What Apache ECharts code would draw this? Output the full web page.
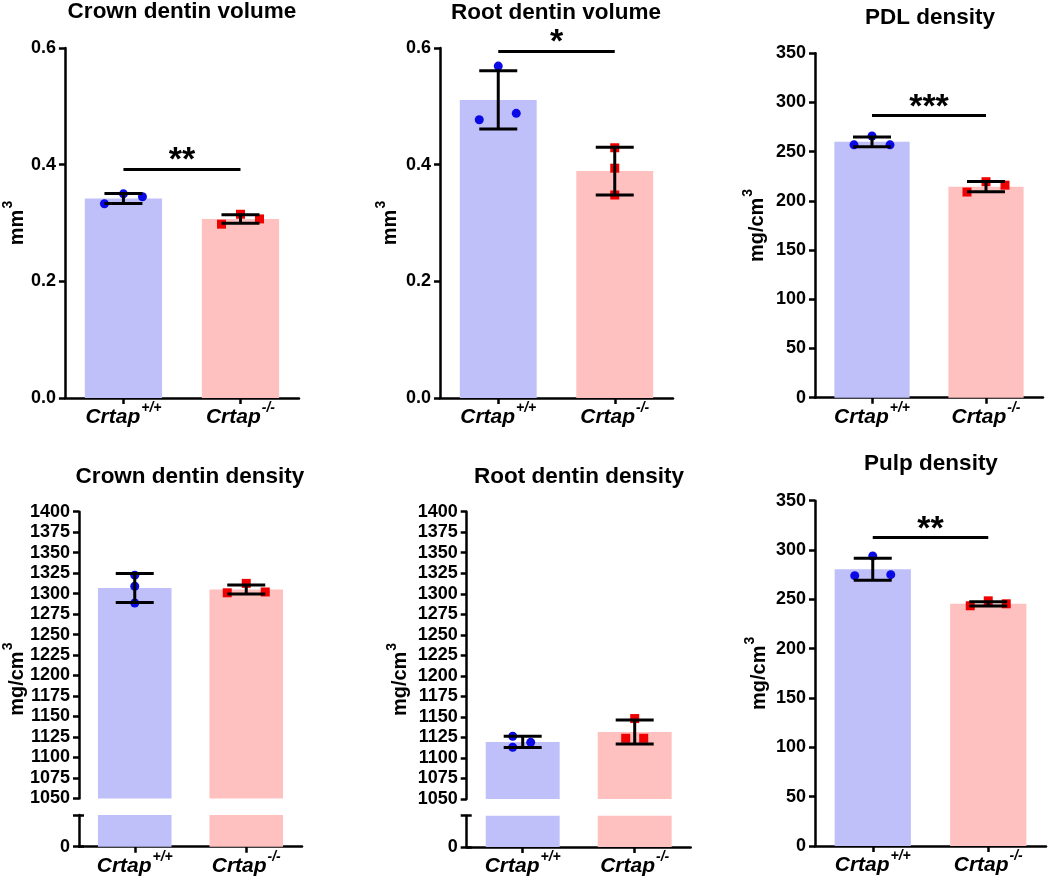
<!DOCTYPE html>
<html>
<head>
<meta charset="utf-8">
<script src="https://cdn.jsdelivr.net/npm/echarts@6/dist/echarts.min.js"></script>
<style>
html,body{margin:0;padding:0;background:#fff;}
#chart{width:1050px;height:877px;}
</style>
</head>
<body>
<div id="chart"></div>
<script>
// ---------------- DATA ----------------
const gene = 'Crtap';
const genotypes = ['+/+', '-/-'];
const categories = genotypes.map(g => gene + g);

// Crown dentin volume (mm3)
const crownVolMean = [0.342, 0.307];
const crownVolSD = [0.0085, 0.0073];
const crownVolWT = [0.333, 0.350, 0.345];
const crownVolKO = [0.298, 0.315, 0.307];
const crownVolTicks = [0, 0.2, 0.4, 0.6];

// Root dentin volume (mm3)
const rootVolMean = [0.511, 0.389];
const rootVolSD = [0.050, 0.041];
const rootVolWT = [0.477, 0.569, 0.488];
const rootVolKO = [0.429, 0.394, 0.348];
const rootVolTicks = [0, 0.2, 0.4, 0.6];

// PDL density (mg/cm3)
const pdlMean = [260, 214.5];
const pdlSD = [5.0, 5.1];
const pdlWT = [257, 266, 257];
const pdlKO = [209, 219.5, 216];
const pdlTicks = [0, 50, 100, 150, 200, 250, 300, 350];

// Crown dentin density (mg/cm3)
const crownDenMean = [1307, 1305];
const crownDenSD = [17.7, 5.5];
const crownDenWT = [1322.5, 1309, 1288.5];
const crownDenKO = [1301, 1312.5, 1302];
const crownDenTicks = [1050, 1075, 1100, 1125, 1150, 1175, 1200, 1225, 1250, 1275, 1300, 1325, 1350, 1375, 1400];

// Root dentin density (mg/cm3)
const rootDenMean = [1119.5, 1131.5];
const rootDenSD = [6.9, 14.6];
const rootDenWT = [1126.5, 1113, 1119];
const rootDenKO = [1124, 1148, 1124];
const rootDenTicks = [1050, 1075, 1100, 1125, 1150, 1175, 1200, 1225, 1250, 1275, 1300, 1325, 1350, 1375, 1400];

// Pulp density (mg/cm3)
const pulpMean = [280.5, 245.5];
const pulpSD = [11.2, 2.2];
const pulpWT = [274, 294, 275];
const pulpKO = [243.5, 248.5, 245.5];
const pulpTicks = [0, 50, 100, 150, 200, 250, 300, 350];

// Significance bars (level on y axis, label)
const sigLevels = [0.393, 0.595, 287, null, null, 313];
const sigLabels = ['**', '*', '***', null, null, '**'];

// ---------------- LAYOUT / STYLE ----------------
const FONT = 'Arial, "Liberation Sans", sans-serif';
const BLUE_BAR = '#bfbffa', PINK_BAR = '#ffc0c0';
const BLUE_PT = '#0a0ae6', RED_PT = '#f00000';

const panels = [
  { title: 'Crown dentin volume', tx: 182, ty: 12, unit: 'mm', grid: [64, 48, 235, 350], nameGap: 37, dec: 1,
    mean: crownVolMean, sd: crownVolSD, wt: crownVolWT, ko: crownVolKO, ticks: crownVolTicks,
    jWT: [-19, 0, 19], jKO: [-19, 0, 19] },
  { title: 'Root dentin volume', tx: 556, ty: 13, unit: 'mm', grid: [440, 48, 233, 350], nameGap: 40, dec: 1,
    mean: rootVolMean, sd: rootVolSD, wt: rootVolWT, ko: rootVolKO, ticks: rootVolTicks,
    jWT: [-19, 0, 18], jKO: [0, 0, 0] },
  { title: 'PDL density', tx: 930, ty: 18, unit: 'mg/cm', grid: [815, 53.3, 228, 344.4], nameGap: 48, dec: 0,
    mean: pdlMean, sd: pdlSD, wt: pdlWT, ko: pdlKO, ticks: pdlTicks,
    jWT: [-18, 0, 18], jKO: [-19, 0, 19] },
  { title: 'Crown dentin density', tx: 190, ty: 477, unit: 'mg/cm', grid: [79, 511.7, 223, 286.7], lower: [79, 815, 223, 31.7], nameGap: 52, dec: 0,
    mean: crownDenMean, sd: crownDenSD, wt: crownDenWT, ko: crownDenKO, ticks: crownDenTicks,
    jWT: [0, 0, 0], jKO: [-19, 0, 19] },
  { title: 'Root dentin density', tx: 579, ty: 477, unit: 'mg/cm', grid: [466.7, 511.7, 224, 287.3], lower: [466.7, 815.7, 224, 31.6], nameGap: 56, dec: 0,
    mean: rootDenMean, sd: rootDenSD, wt: rootDenWT, ko: rootDenKO, ticks: rootDenTicks,
    jWT: [-10, -10, 8], jKO: [-9, 0, 9] },
  { title: 'Pulp density', tx: 931, ty: 464, unit: 'mg/cm', grid: [815, 500.7, 231, 345.3], nameGap: 46, dec: 0,
    mean: pulpMean, sd: pulpSD, wt: pulpWT, ko: pulpKO, ticks: pulpTicks,
    jWT: [-18, 0, 18], jKO: [-18, 0, 18] }
];

const axisLineStyle = { color: '#000', width: 2.5 };
const tickLabelStyle = { color: '#000', fontSize: 18, fontWeight: 'bold', fontFamily: FONT, margin: 9 };
const xLabelRich = {
  m: { fontSize: 21, fontWeight: 'bold', fontStyle: 'italic', fontFamily: FONT, color: '#000', verticalAlign: 'bottom', lineHeight: 23 },
  s: { fontSize: 14, fontWeight: 'bold', fontStyle: 'italic', fontFamily: FONT, color: '#000', verticalAlign: 'bottom', lineHeight: 14, padding: [0, 0, 13, 1] }
};
const nameRich = {
  a: { fontSize: 20, fontWeight: 'bold', fontFamily: FONT, color: '#000', verticalAlign: 'bottom', lineHeight: 22 },
  s: { fontSize: 14, fontWeight: 'bold', fontFamily: FONT, color: '#000', verticalAlign: 'bottom', lineHeight: 14, padding: [0, 0, 12, 1] }
};

const option = { animation: false, backgroundColor: '#fff', title: [], grid: [], xAxis: [], yAxis: [], series: [] };

function xCat(gridIndex, show) {
  return {
    type: 'category', gridIndex, data: categories, show,
    axisLine: { show: true, lineStyle: axisLineStyle },
    axisTick: { show: true, alignWithLabel: true, length: 6, lineStyle: { width: 2.5, color: '#000' } },
    axisLabel: {
      margin: 7,
      formatter: v => '{m|' + v.slice(0, gene.length) + '}{s|' + v.slice(gene.length) + '}',
      rich: xLabelRich
    },
    splitLine: { show: false }
  };
}

function errorSeries(xi, yi, mean, sd) {
  return {
    type: 'custom', xAxisIndex: xi, yAxisIndex: yi, z: 5,
    data: mean.map((m, i) => [i, m, sd[i]]),
    encode: { x: 0, y: 1 },
    renderItem: (params, api) => {
      const x = api.value(0), m = api.value(1), s = api.value(2);
      const top = api.coord([x, m + s]);
      const bot = api.coord([x, m - s]);
      const half = 19;
      const st = { stroke: '#000', lineWidth: 3 };
      return { type: 'group', children: [
        { type: 'line', shape: { x1: top[0], y1: top[1], x2: bot[0], y2: bot[1] }, style: st },
        { type: 'line', shape: { x1: top[0] - half, y1: top[1], x2: top[0] + half, y2: top[1] }, style: st },
        { type: 'line', shape: { x1: bot[0] - half, y1: bot[1], x2: bot[0] + half, y2: bot[1] }, style: st }
      ]};
    }
  };
}

panels.forEach((p, pi) => {
  option.title.push({
    text: p.title, left: p.tx, top: p.ty - 12, textAlign: 'center', padding: 0,
    textStyle: { fontSize: 22.5, fontWeight: 'bold', fontFamily: FONT, color: '#000' }
  });
  const ticks = p.ticks;
  const minV = ticks[0], maxV = ticks[ticks.length - 1], step = ticks[1] - ticks[0];
  const gMain = option.grid.length;
  option.grid.push({ left: p.grid[0], top: p.grid[1], width: p.grid[2], height: p.grid[3], containLabel: false });
  const xMain = option.xAxis.length;
  option.xAxis.push(xCat(gMain, !p.lower));
  const yMain = option.yAxis.length;
  option.yAxis.push({
    type: 'value', gridIndex: gMain, position: 'left', min: minV, max: maxV, interval: step,
    axisLine: { show: true, lineStyle: axisLineStyle },
    axisTick: { show: true, length: 6, lineStyle: { width: 2.5, color: '#000' } },
    axisLabel: Object.assign({ formatter: v => v.toFixed(p.dec) }, tickLabelStyle),
    splitLine: { show: false },
    name: p.lower ? '' : '{a|' + p.unit + '}{s|3}',
    nameLocation: 'middle', nameGap: p.nameGap,
    nameTextStyle: { rich: nameRich }
  });

  const barData = p.mean.map((m, i) => ({ value: m, itemStyle: { color: i === 0 ? BLUE_BAR : PINK_BAR } }));
  const barSeries = {
    type: 'bar', xAxisIndex: xMain, yAxisIndex: yMain, data: barData, barWidth: '66%', z: 1
  };
  if (sigLevels[pi] !== null) {
    barSeries.markLine = {
      symbol: 'none', silent: true,
      lineStyle: { color: '#000', width: 3, type: 'solid' },
      label: { show: true, position: 'insideMiddleTop', distance: -9, formatter: sigLabels[pi],
        fontSize: 34, fontWeight: 'bold', fontFamily: FONT, color: '#000' },
      emphasis: { disabled: true },
      data: [[{ coord: [0, sigLevels[pi]] }, { coord: [1, sigLevels[pi]] }]]
    };
  }
  option.series.push(barSeries);

  option.series.push({
    type: 'scatter', xAxisIndex: xMain, yAxisIndex: yMain, z: 3, symbol: 'circle', symbolSize: 9,
    itemStyle: { color: BLUE_PT, opacity: 1 },
    data: p.wt.map((v, k) => ({ value: [0, v], symbolOffset: [p.jWT[k], 0] }))
  });
  option.series.push({
    type: 'scatter', xAxisIndex: xMain, yAxisIndex: yMain, z: 3, symbol: 'rect', symbolSize: 9,
    itemStyle: { color: RED_PT, opacity: 1 },
    data: p.ko.map((v, k) => ({ value: [1, v], symbolOffset: [p.jKO[k], 0] }))
  });
  option.series.push(errorSeries(xMain, yMain, p.mean, p.sd));

  if (p.lower) {
    const gLow = option.grid.length;
    option.grid.push({ left: p.lower[0], top: p.lower[1], width: p.lower[2], height: p.lower[3] });
    const xLow = option.xAxis.length;
    option.xAxis.push(xCat(gLow, true));
    const yLow = option.yAxis.length;
    option.yAxis.push({
      type: 'value', gridIndex: gLow, position: 'left', min: 0, max: 100, interval: 100,
      axisLine: { show: true, lineStyle: axisLineStyle },
      axisTick: { show: true, length: 6, lineStyle: { width: 2.5, color: '#000' } },
      axisLabel: Object.assign({ formatter: v => (v === 0 ? '0' : '') }, tickLabelStyle),
      splitLine: { show: false }
    });
    option.yAxis.push({
      type: 'value', gridIndex: gLow, position: 'left', offset: 0, min: 0, max: 100, interval: 100,
      axisLine: { show: false },
      axisTick: { show: true, inside: true, length: 5, lineStyle: { width: 2.5, color: '#000' } },
      axisLabel: { show: false }, splitLine: { show: false }
    });
    option.series.push({
      type: 'bar', xAxisIndex: xLow, yAxisIndex: yLow, data: barData, barWidth: '66%', z: 1, clip: true
    });
    // full-height axis carrying the axis name
    const gName = option.grid.length;
    option.grid.push({ left: p.grid[0], top: p.grid[1], width: p.grid[2], height: p.lower[1] + p.lower[3] - p.grid[1] });
    option.xAxis.push({ type: 'value', gridIndex: gName, show: false, min: 0, max: 1 });
    option.yAxis.push({
      type: 'value', gridIndex: gName, position: 'left', min: 0, max: 1,
      axisLine: { show: false }, axisTick: { show: false }, axisLabel: { show: false }, splitLine: { show: false },
      name: '{a|' + p.unit + '}{s|3}', nameLocation: 'middle', nameGap: p.nameGap,
      nameTextStyle: { rich: nameRich }
    });
  }
});

const chart = echarts.init(document.getElementById('chart'), null, { renderer: 'canvas' });
chart.setOption(option);
</script>
</body>
</html>
